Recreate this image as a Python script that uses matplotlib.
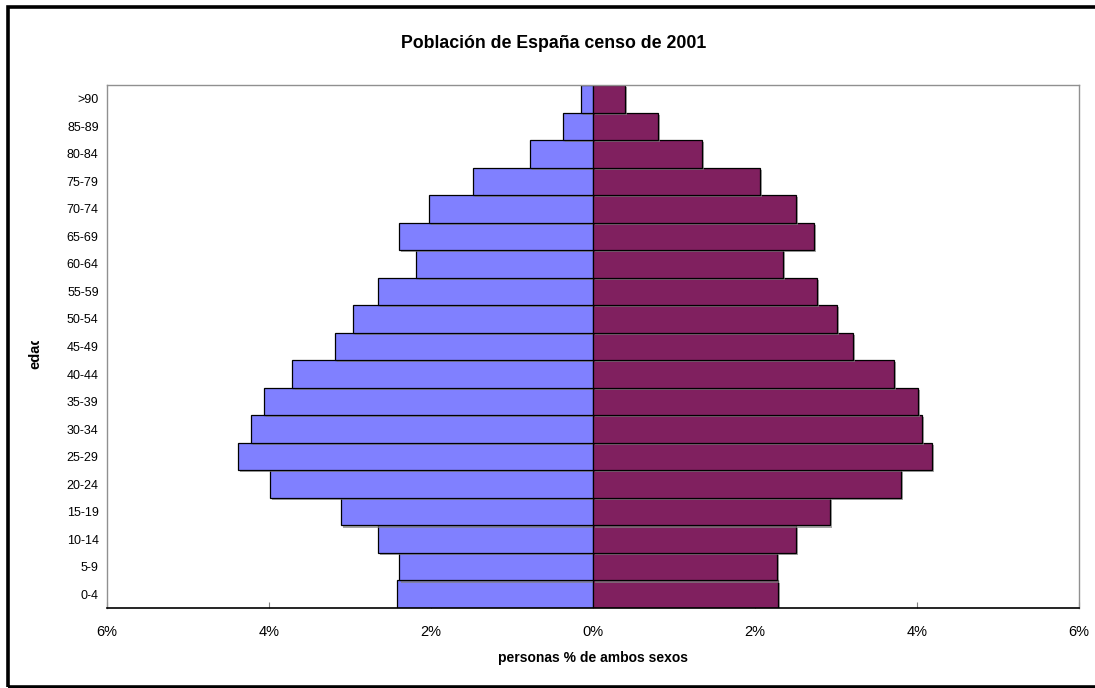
import matplotlib
matplotlib.use("Agg")
import matplotlib.pyplot as plt
import matplotlib.patheffects as pe
from matplotlib.patches import Rectangle
from matplotlib.transforms import Bbox, IdentityTransform
import numpy as np

plt.rcParams['font.family'] = ['Liberation Sans', 'DejaVu Sans']

# Age groups, from youngest to oldest
age_groups = ["0-4", "5-9", "10-14", "15-19", "20-24", "25-29", "30-34", "35-39",
              "40-44", "45-49", "50-54", "55-59", "60-64", "65-69", "70-74",
              "75-79", "80-84", "85-89", ">90"]
# Share of total population (%), men (left) and women (right)
men = [2.42, 2.40, 2.65, 3.11, 3.99, 4.38, 4.22, 4.06, 3.71, 3.19, 2.96, 2.65,
       2.18, 2.39, 2.03, 1.48, 0.78, 0.37, 0.15]
women = [2.28, 2.27, 2.50, 2.93, 3.80, 4.19, 4.06, 4.01, 3.71, 3.21, 3.01, 2.77,
         2.35, 2.73, 2.50, 2.06, 1.35, 0.80, 0.40]
x_ticks = [-6, -4, -2, 0, 2, 4, 6]

W, H = 1095, 688
fig = plt.figure(figsize=(W / 100, H / 100), dpi=100)
fig.patch.set_facecolor("white")

ax = fig.add_axes([107 / W, 1 - 608 / H, (1079 - 107) / W, (608 - 85) / H])

y = np.arange(len(age_groups))
shadow = [pe.SimplePatchShadow(offset=(1.5, -1.5), shadow_rgbFace="#808080", alpha=0.7),
          pe.Normal()]
bars_m = ax.barh(y, [-v for v in men], height=1.0, color="#8080FF",
                 edgecolor="black", linewidth=0.9, zorder=2)
bars_w = ax.barh(y, women, height=1.0, color="#80205F",
                 edgecolor="black", linewidth=0.9, zorder=2)
for b in list(bars_m) + list(bars_w):
    b.set_path_effects(shadow)

ax.set_xlim(-6, 6)
ax.set_ylim(-0.5, len(age_groups) - 0.5)
ax.set_yticks(y)
ax.set_yticklabels(age_groups, fontsize=9)
ax.tick_params(axis="y", length=0, pad=6)
ax.set_xticks(x_ticks)
ax.set_xticklabels([f"{abs(t)}%" for t in x_ticks], fontsize=10.5)
ax.tick_params(axis="x", direction="in", length=4, color="#808080", pad=12)

for side in ("left", "top", "right"):
    ax.spines[side].set_color("#909090")
    ax.spines[side].set_linewidth(1.0)
ax.spines["bottom"].set_color("black")
ax.spines["bottom"].set_linewidth(1.2)

ax.set_xlabel("personas % de ambos sexos", fontsize=10, fontweight="bold", labelpad=9)

fig.text(554 / W, 1 - 44 / H, "Población de España censo de 2001", ha="center",
         va="center", fontsize=12.8, fontweight="bold")

# Vertical axis title, cut off at the top like the original sheet
ylab = fig.text(35 / W, 1 - 352 / H, "edad", rotation=90, ha="center", va="center",
                fontsize=10.5, fontweight="bold")
ylab.set_clip_box(Bbox([[15, 0], [60, H - 341]]))
ylab.set_clip_on(True)

# Outer chart frame
frame = Rectangle((8 / W, 1 - 686.5 / H), 1.2, (686.5 - 6.5) / H, transform=fig.transFigure,
                  fill=False, edgecolor="black", linewidth=2.6, clip_on=False)
fig.add_artist(frame)

fig.savefig("out.png", dpi=100)
